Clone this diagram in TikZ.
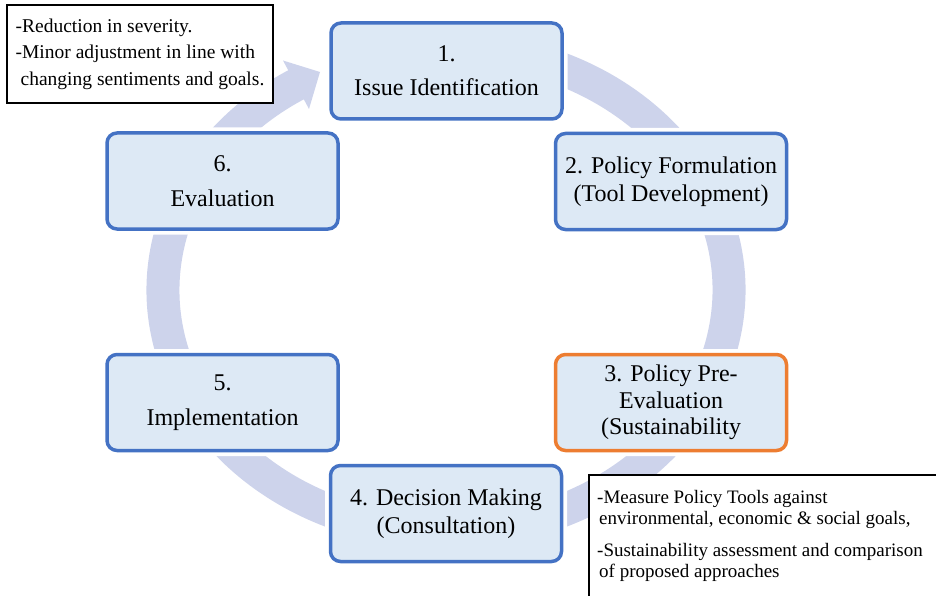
\documentclass[tikz,border=0pt]{standalone}
\usepackage{fontspec}
\setmainfont{Liberation Serif}
\usepackage{xcolor}
\definecolor{cycblue}{HTML}{4472C4}
\definecolor{cycfill}{HTML}{DDE9F5}
\definecolor{cycband}{HTML}{CDD3EB}
\definecolor{cycorange}{HTML}{ED7D31}
\usetikzlibrary{positioning,calc}

\begin{document}
\begin{tikzpicture}[x=1pt, y=-1pt,
  stage/.style={rectangle, rounded corners=10pt, draw=cycblue, line width=3.5pt, fill=cycfill,
                minimum width=231pt, minimum height=96pt, align=center, inner sep=4pt,
                font=\fontsize{24}{27.5}\selectfont, preaction={draw=white, line width=11pt}},
  band/.style={draw=cycband, line width=33pt},
  notebox/.style={rectangle, draw=black, line width=1.6pt, fill=white},
  notetext/.style={align=left, inner sep=0pt, anchor=north west}
]
\useasboundingbox (0,0) rectangle (936,596);
\clip (0,0) rectangle (936,596);

% the cycle arrow behind the stages
\coordinate (hub) at (446,290);
\draw[band] ($(hub)+(-80:283 and 242)$) arc[start angle=-80, end angle=239.5, x radius=283, y radius=242];
\coordinate (headL) at (283,60.5);
\coordinate (headR) at (309,109);
\coordinate (headtip) at (320,72);
\fill[cycband] (headL) -- (headtip) -- (headR) -- cycle;

\node[stage] (issue) at (446.5,71) {1.\\[6.5pt]Issue Identification};
\node[stage, font=\fontsize{24}{28}\selectfont] (formulation) at (671,181.5) {2. Policy Formulation\\(Tool Development)};
\node[stage, draw=cycorange, font=\fontsize{24}{26.5}\selectfont] (preeval) at (671,402.5) {3. Policy Pre-\\Evaluation\\(Sustainability};
\node[stage] (decision) at (446,513.5) {4. Decision Making\\(Consultation)};
\node[stage] (implement) at (222.5,402.5) {5.\\[7pt]Implementation};
\node[stage] (evaluation) at (222.5,181) {6.\\[7pt]Evaluation};

\node[notebox, minimum width=266pt, minimum height=98pt, align=left, inner sep=0pt,
      font=\fontsize{19.5}{26.5}\selectfont] (review) at (140,54)
  {-Reduction in severity.\\-Minor adjustment in line with\\\hspace*{5pt}changing sentiments and goals.};

\node[notebox, minimum width=360pt, minimum height=130pt, anchor=north west] (toolsbox) at (588,474) {};
\node[notetext, font=\fontsize{19}{21}\selectfont] (toolstext) at ([xshift=9pt, yshift=-16pt]toolsbox.north west)
  {-Measure Policy Tools against\\\hspace*{2pt}environmental, economic \& social goals,\\[11pt]
   -Sustainability assessment and comparison\\\hspace*{2pt}of proposed approaches};
\end{tikzpicture}
\end{document}
